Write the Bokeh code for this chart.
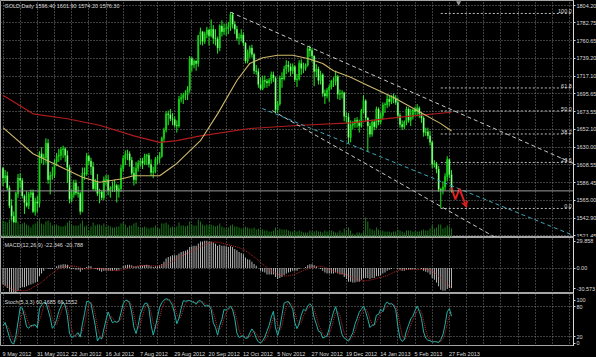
import numpy as np
from bokeh.plotting import figure
from bokeh.layouts import column
from bokeh.models import Range1d, FixedTicker, Span, Label, Arrow, VeeHead, ColumnDataSource
from bokeh.core.properties import value
from bokeh.embed import file_html
from bokeh.resources import INLINE

# ---------------- data ----------------
date_labels = ["9 May 2012", "31 May 2012", "22 Jun 2012", "16 Jul 2012", "7 Aug 2012",
               "29 Aug 2012", "20 Sep 2012", "12 Oct 2012", "5 Nov 2012", "27 Nov 2012",
               "19 Dec 2012", "14 Jan 2013", "5 Feb 2013", "27 Feb 2013"]
bars_per_label = 16

first_open = 1604.0
highs = [1606,1602,1600,1583,1566,1551,1575,1597,1598,1592,1572,1576,1575,1578,1578,1568,1570,1625,1630,1622,
         1641,1640,1600,1606,1615,1623,1628,1630,1632,1630,1626,1608,1578,1590,1590,1582,1575,1605,1605,1623,
         1621,1617,1612,1591,1597,1579,1577,1594,1596,1596,1582,1588,1590,1585,1584,1608,1620,1626,1627,1625,
         1618,1606,1612,1614,1617,1617,1622,1622,1623,1615,1606,1618,1620,1624,1643,1654,1674,1675,1677,1672,
         1668,1663,1693,1696,1697,1700,1705,1742,1741,1738,1737,1768,1777,1773,1772,1778,1776,1787,1780,1775,
         1766,1781,1786,1782,1782,1784,1796,1796,1785,1779,1770,1775,1771,1759,1750,1755,1756,1746,1731,1727,
         1716,1718,1718,1714,1715,1723,1723,1717,1687,1718,1722,1730,1737,1736,1733,1733,1731,1720,1737,1738,
         1734,1733,1754,1755,1752,1743,1732,1729,1724,1721,1701,1703,1707,1713,1716,1724,1719,1701,1700,1698,
         1673,1672,1663,1662,1666,1667,1664,1677,1694,1689,1667,1660,1664,1664,1680,1679,1673,1685,1685,1694,
         1693,1694,1696,1694,1691,1672,1663,1663,1680,1679,1677,1677,1680,1683,1680,1673,1668,1654,1654,1650,
         1638,1614,1612,1607,1580,1588,1598,1619,1616,1601.9]
lows = [1582,1586,1577,1555,1540,1537,1537,1568,1580,1567,1548,1556,1554,1568,1549,1546,1550,1556,1610,1608,
        1610,1585,1572,1590,1592,1607,1612,1614,1617,1612,1586,1561,1562,1568,1571,1568,1547,1550,1590,1595,
        1608,1596,1577,1576,1570,1561,1565,1565,1583,1571,1568,1575,1575,1562,1568,1575,1600,1608,1614,1606,
        1595,1583,1585,1600,1606,1603,1608,1608,1605,1595,1592,1598,1609,1610,1617,1636,1648,1657,1662,1657,
        1654,1648,1654,1685,1683,1688,1688,1697,1723,1727,1724,1729,1756,1755,1757,1764,1755,1765,1757,1755,
        1745,1748,1766,1768,1767,1769,1773,1776,1769,1761,1756,1760,1754,1733,1733,1740,1740,1720,1719,1703,
        1700,1700,1703,1703,1705,1708,1710,1672,1672,1681,1703,1712,1720,1722,1717,1720,1710,1704,1712,1719,
        1721,1724,1729,1741,1735,1705,1716,1707,1707,1692,1683,1690,1686,1701,1704,1706,1689,1688,1690,1662,
        1660,1635,1636,1652,1654,1654,1648,1654,1672,1662,1625,1642,1643,1651,1653,1657,1658,1664,1672,1678,
        1680,1683,1684,1682,1665,1654,1651,1652,1657,1660,1656,1664,1670,1668,1666,1660,1643,1644,1640,1632,
        1604,1605,1598,1575,1555,1572,1577,1588,1592,1574.2]
closes = [1592,1595,1580,1558,1545,1538,1573,1592,1589,1570,1562,1558,1572,1574,1551,1563,1561,1622,1617,1617,
          1635,1590,1595,1596,1612,1619,1620,1627,1628,1620,1605,1566,1572,1586,1574,1573,1551,1598,1597,1619,
          1613,1606,1579,1587,1573,1575,1568,1590,1590,1577,1579,1581,1583,1576,1579,1604,1616,1621,1622,1614,
          1598,1590,1604,1610,1613,1610,1619,1620,1609,1599,1600,1615,1616,1619,1641,1651,1671,1670,1665,1664,
          1657,1656,1689,1691,1694,1694,1701,1739,1731,1736,1733,1767,1772,1760,1769,1774,1767,1775,1764,1763,
          1752,1779,1772,1776,1776,1778,1793,1781,1775,1764,1764,1768,1758,1736,1746,1752,1744,1724,1723,1707,
          1702,1712,1711,1709,1712,1719,1715,1676,1683,1715,1714,1726,1731,1729,1724,1729,1713,1714,1733,1727,
          1727,1731,1751,1749,1742,1723,1726,1712,1719,1696,1693,1700,1704,1711,1711,1717,1695,1696,1697,1668,
          1667,1642,1657,1659,1663,1660,1656,1675,1687,1666,1656,1646,1661,1655,1677,1661,1669,1682,1682,1689,
          1686,1692,1690,1685,1669,1658,1655,1661,1677,1663,1667,1676,1674,1678,1671,1666,1648,1649,1644,1636,
          1609,1610,1603,1578,1577,1581,1594,1615,1596.4,1576.3]
volumes = [17,16,15,18,20,19,18,16,13,14,15,13,12,10,13,14,
           15,19,14,13,16,17,15,12,12,13,12,11,11,12,15,17,
           13,12,12,12,14,17,11,12,7,11,15,12,13,13,12,14,
           11,12,11,10,10,11,11,14,15,13,10,12,12,14,15,11,
           10,10,11,10,9,10,10,12,10,9,14,14,15,13,10,11,
           10,11,15,12,12,11,12,16,13,12,12,18,16,13,12,13,
           12,13,12,11,12,14,11,10,9,10,12,13,11,11,10,9,
           9,11,10,9,9,10,8,9,8,8,7,7,6,6,7,10,
           7,9,8,8,8,7,6,6,7,6,7,6,5,5,5,7,
           6,6,7,6,6,5,7,6,6,7,6,5,5,7,5,9,
           7,10,7,4,3,5,5,4,6,20,16,9,8,7,10,8,
           6,7,6,6,6,5,6,6,8,7,6,5,7,7,7,6,
           6,6,6,7,8,7,7,9,12,9,10,13,13,9,10,12,11,9]
macd_main = [-18,-20,-22,-26,-29,-30.5,-28,-25,-22,-21,
             -21,-20,-19,-18,-17,-16,-15,-9,-6,-3,
             0,-1,-1,-1,0,2,3,3.5,4,4,
             3.5,1,-1,-1,-2,-2,-4,-2,-1,1,
             2,2,0,-1,-2,-3,-4,-3,-3,-3,
             -3,-3,-2,-3,-2,0,2,3,3.5,3.5,
             3,2,2,2,2.5,2.5,3,3.5,3,2,
             1,2,2,3,4.5,7,10.5,12,13,14,
             14,14,16,17.5,18.5,19,20,23,24,24.5,
             24.5,27,29,29,29.858,29.8,29,29,28,26.5,
             24.5,25.5,24.5,24.5,24,23,24,23,21,19.5,
             17.5,16.5,15,11.5,9.5,9,7,4.5,2.5,0,
             -3,-4,-5,-7,-7,-7,-7,-10,-12,-11,
             -10,-8,-6,-5,-4,-3,-3,-3,-1,0,
             0,1,3,4,4,3,2,0,-1,-3,
             -5,-6,-6,-6,-6,-5,-6,-7,-7,-10,
             -12,-15,-15,-16,-16,-15,-15,-13,-11,-11,
             -11,-12,-11,-11,-9,-9,-8,-6,-5,-3,
             -2,-1,0,0,-1,-2,-3,-3,-2,-2,
             -2,-1,-1,0,0,-1,-3,-4,-5,-7,
             -11,-13,-16,-20,-24,-25,-25,-23,-22,-22.346]

ma_fast_bars = [0, 14, 37, 45, 55, 61, 73, 81, 92, 100, 109, 115, 121, 128, 135, 142, 149, 154, 162, 170, 182, 193, 204, 209]
ma_fast_vals = [1654, 1622, 1593, 1587, 1591, 1595, 1595, 1610, 1638, 1671, 1712, 1733, 1740, 1743, 1743, 1739, 1733, 1724, 1716, 1706, 1691, 1675, 1659, 1650]
ma_slow_bars = [0, 14, 30, 45, 61, 73, 81, 92, 115, 139, 162, 185, 209]
ma_slow_vals = [1694, 1671, 1665, 1657, 1644, 1636, 1638, 1644, 1653, 1657, 1660, 1667, 1673]

price_ticks = [1804.20, 1782.75, 1760.65, 1739.20, 1717.10, 1695.65, 1673.55, 1652.10,
               1630.00, 1608.55, 1586.45, 1565.00, 1542.90, 1521.45]
last_price = 1576.30

fib_high, fib_low = 1794.4, 1554.7
fib_levels = [100.0, 61.8, 50.0, 38.2, 23.6, 0.0]
fib_start_bar = 204

channel_upper = ([106, 265.8], [1796, 1610])
channel_cyan = ([120.8, 265.8], [1677.6, 1521.5])
channel_lower = ([125.5, 229.5], [1675, 1519])

forecast_bars = [209.0, 210.8, 212.7, 216.0]
forecast_prices = [1580.5, 1565.7, 1579.2, 1555.9]
shift_marker_bar = 212.3

macd_range = (-28.0, 33.5)
stoch_range = (0, 106)
stoch_levels = [80, 20]

# ---------------- styling ----------------
FONT = "Liberation Sans"
FS = "5.5px"
TXT = "#dcdcdc"
GRIDC = "#7d7d7d"
BORDER = "#a6a6a6"

N = len(closes)
idx = list(range(N))
opens = [first_open] + closes[:-1]
tops = [max(o, c) for o, c in zip(opens, closes)]
bots = [min(o, c) for o, c in zip(opens, closes)]
tops = [t if t - b > 0.6 else b + 0.6 for t, b in zip(tops, bots)]
fills = ["#10c810" if c >= o else "#b8ffb8" for o, c in zip(opens, closes)]

# stochastic (5,3,3) from the OHLC lists
num, den = [], []
for t in range(N):
    a = max(0, t - 4)
    ll, hh = min(lows[a:t + 1]), max(highs[a:t + 1])
    num.append(closes[t] - ll)
    den.append(hh - ll)
stoch_k = []
for t in range(N):
    a = max(0, t - 2)
    d = sum(den[a:t + 1])
    stoch_k.append(100.0 * sum(num[a:t + 1]) / d if d else 50.0)
stoch_d = [float(np.mean(stoch_k[max(0, t - 2):t + 1])) for t in range(N)]
macd_signal = [float(np.mean(macd_main[max(0, t - 8):t + 1])) for t in range(N)]

src = ColumnDataSource(dict(i=idx, h=highs, l=lows, top=tops, bot=bots, fill=fills,
                            vol=volumes, macd=macd_main, sig=macd_signal, k=stoch_k, d=stoch_d))

PX_PER_BAR = 2.146
xr = Range1d(-2.5 / PX_PER_BAR, (573 - 2.5) / PX_PER_BAR)
grid_bars = list(range(0, 266, 8))


def panel(frame_h, yr, ticks, grid_ticks, overrides=None):
    p = figure(frame_width=573, frame_height=frame_h, x_range=xr, y_range=yr,
               output_backend="svg", toolbar_location=None,
               x_axis_location=None, y_axis_location="right",
               background_fill_color="black", border_fill_color="black",
               min_border_left=0, min_border_right=23, min_border_top=0, min_border_bottom=0,
               outline_line_color=BORDER, outline_line_width=1)
    ax = p.yaxis[0]
    ax.ticker = FixedTicker(ticks=ticks)
    if overrides:
        ax.major_label_overrides = overrides
    ax.axis_line_color = "#d8d8d8"
    ax.major_tick_line_color = "#d8d8d8"
    ax.major_tick_out = 2
    ax.major_tick_in = 0
    ax.minor_tick_out = 0
    ax.minor_tick_in = 0
    ax.major_label_standoff = 1
    ax.major_label_text_font = FONT
    ax.major_label_text_font_size = FS
    ax.major_label_text_color = TXT
    p.xgrid.ticker = FixedTicker(ticks=grid_bars)
    p.ygrid.ticker = FixedTicker(ticks=grid_ticks)
    for g in (p.xgrid, p.ygrid):
        g.grid_line_color = GRIDC
        g.grid_line_dash = "1 2"
        g.grid_line_width = 1
    return p


# ---------------- main price panel ----------------
p1 = panel(237, Range1d(1519.0, 1810.35), price_ticks, price_ticks,
           {t: f"{t:.2f}" for t in price_ticks})
p1.extra_y_ranges = {"vol": Range1d(0, 237)}
p1.vbar(x="i", width=0.4, top="vol", bottom=0, y_range_name="vol", source=src,
        fill_color="#1c8a1c", line_color=None)
p1.add_layout(Span(location=last_price, dimension="width", line_color="#9a9a9a", line_width=1))
for lv in fib_levels:
    yv = fib_low + (fib_high - fib_low) * lv / 100.0
    p1.line([fib_start_bar, xr.end], [yv, yv], line_color="#bdbdbd", line_dash="2 2", line_width=1)
p1.text(x=[xr.end - 0.8] * len(fib_levels),
        y=[fib_low + (fib_high - fib_low) * lv / 100.0 for lv in fib_levels],
        text=[f"{lv:.1f}" for lv in fib_levels], text_align="right", text_baseline="bottom",
        text_font=value(FONT), text_font_size=FS, text_color=TXT)
p1.segment(x0="i", y0="l", x1="i", y1="h", source=src, line_color="#22ee22", line_width=1)
p1.vbar(x="i", width=0.62, top="top", bottom="bot", source=src, fill_color="fill",
        line_color="#22ee22", line_width=0.4)
p1.line(ma_slow_bars, ma_slow_vals, line_color="#b01c1c", line_width=1.2)
p1.line(ma_fast_bars, ma_fast_vals, line_color="#cdb86a", line_width=1.1)
p1.line(*channel_upper, line_color="#c8c8c8", line_dash="4 3", line_width=1)
p1.line(*channel_lower, line_color="#c8c8c8", line_dash="4 3", line_width=1)
p1.line(*channel_cyan, line_color="#3aa7b8", line_dash="4 3", line_width=1)
p1.line(forecast_bars[:-1], forecast_prices[:-1], line_color="#e02020", line_width=2)
p1.add_layout(Arrow(x_start=forecast_bars[-2], y_start=forecast_prices[-2],
                    x_end=forecast_bars[-1], y_end=forecast_prices[-1],
                    line_color="#e02020", line_width=2,
                    end=VeeHead(size=6, line_color="#e02020", fill_color="#e02020")))
p1.scatter([shift_marker_bar], [1807.5], marker="inverted_triangle", size=5,
           fill_color="#9a9a9a", line_color=None)
p1.add_layout(Label(x=4, y=234.5, x_units="screen", y_units="screen",
                    text="GOLD,Daily  1596.40 1601.90 1574.20 1576.30",
                    text_font=FONT, text_font_size=FS, text_color=TXT, text_baseline="top"))
p1.add_layout(Label(x=575, y=last_price, x_units="screen", y_units="data", text=f"{last_price:.2f}",
                    text_font=FONT, text_font_size=FS, text_color="black", text_baseline="middle",
                    background_fill_color="white"))

# ---------------- MACD panel ----------------
p2 = panel(56, Range1d(*macd_range), [29.5, 0.0, -23.0], [0.0],
           {29.5: "29.858", 0.0: "0.00", -23.0: "-30.573"})
p2.vbar(x="i", width=0.4, top="macd", bottom=0, source=src, fill_color="#d0d0d0", line_color=None)
p2.line(x="i", y="sig", source=src, line_color="#c02828", line_dash="1 1", line_width=1)
p2.add_layout(Label(x=4, y=52, x_units="screen", y_units="screen",
                    text="MACD(12,26,9) -22.346 -20.788",
                    text_font=FONT, text_font_size=FS, text_color=TXT, text_baseline="top"))

# ---------------- Stochastic panel ----------------
p3 = panel(53, Range1d(*stoch_range), [93.0, 80.0, 20.0, 7.0], stoch_levels,
           {93.0: "100", 80.0: "80", 20.0: "20", 7.0: "0"})
p3.line(x="i", y="d", source=src, line_color="#c02828", line_dash="1 1", line_width=1)
p3.line(x="i", y="k", source=src, line_color="#20b2aa", line_width=1)
p3.add_layout(Label(x=4, y=47.5, x_units="screen", y_units="screen",
                    text="Stoch(5,3,3) 60.1685 66.1552",
                    text_font=FONT, text_font_size=FS, text_color=TXT, text_baseline="top"))

# ---------------- date strip ----------------
p4 = figure(frame_width=573, frame_height=11, x_range=xr, y_range=Range1d(0, 1),
            output_backend="svg", toolbar_location=None, x_axis_location=None, y_axis_location=None,
            background_fill_color="black", border_fill_color="black",
            min_border_left=0, min_border_right=23, min_border_top=0, min_border_bottom=0,
            outline_line_color=None)
p4.xgrid.visible = False
p4.ygrid.visible = False
p4.text(x=[k * bars_per_label - 0.2 for k in range(len(date_labels))], y=[0.45] * len(date_labels),
        text=date_labels, text_align="left", text_baseline="middle",
        text_font=value(FONT), text_font_size=FS, text_color=TXT)

layout = column(p1, p2, p3, p4, spacing=0, styles={"background-color": "black"})
html = file_html(layout, INLINE, "GOLD Daily")
html = html.replace("<body>", "<body style=\"margin:0;background:black;\">")
open("out.html", "w").write(html)
